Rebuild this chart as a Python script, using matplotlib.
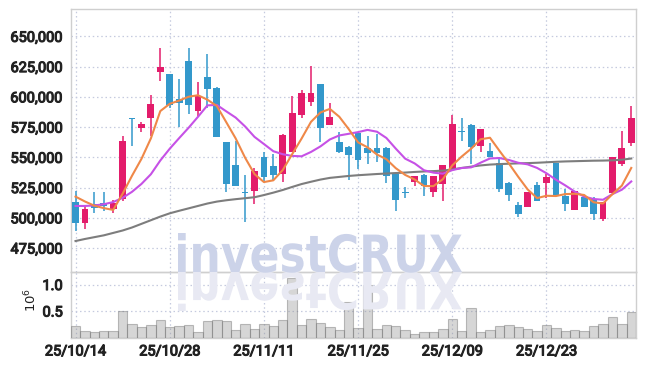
import numpy as np
import matplotlib
matplotlib.use("Agg")
import matplotlib.pyplot as plt
import matplotlib.patheffects as pe
from matplotlib.textpath import TextPath
from matplotlib.patches import PathPatch
from matplotlib.font_manager import FontProperties
from matplotlib.transforms import Affine2D, IdentityTransform

# ==============================
# Data (won / shares)
# ==============================
TICK_POS = [0, 10, 20, 30, 40, 50]
TICK_LABELS = ["25/10/14", "25/10/28", "25/11/11", "25/11/25", "25/12/09", "25/12/23"]

OPEN = [513400, 496000, 511400, 512000, 507300, 515600, 582500, 574500, 582200, 620200,
        618900, 598200, 629900, 588000, 616100, 607600, 562700, 543900, 521300, 522400,
        550000, 542800, 536500, 554700, 585300, 596000, 610600, 577000, 562400, 558500,
        570100, 557700, 557700, 557700, 536200, 520800, 529900, 535400, 521600, 528200,
        540400, 571800, 576700, 559600, 555000, 545300, 528800, 510600, 509200, 527100,
        529100, 545300, 518300, 506700, 516900, 515600, 499000, 520500, 544500, 562100]
HIGH = [522400, 510600, 521100, 521100, 515000, 567600, 582500, 578900, 601500, 640100,
        618900, 614700, 640100, 612000, 635400, 608400, 562700, 563500, 535700, 540900,
        554700, 552500, 569300, 600400, 605600, 625800, 610600, 595200, 571200, 559600,
        570700, 567400, 569600, 558500, 536200, 525200, 534800, 536200, 534300, 543700,
        585000, 582200, 577300, 573400, 561600, 550000, 529300, 512800, 521600, 529900,
        536200, 545300, 523800, 522400, 517500, 516900, 512800, 550000, 572000, 592100]
LOW = [489400, 490800, 504000, 505600, 504000, 513900, 559600, 571200, 567900, 613400,
       591000, 574800, 585800, 583900, 590800, 566500, 521600, 526000, 496300, 511400,
       529300, 531300, 529300, 554100, 582800, 592100, 562900, 577000, 553300, 531500,
       540400, 544200, 545900, 528500, 505600, 516400, 526600, 518300, 516900, 514200,
       539800, 563800, 544500, 554700, 550000, 521600, 514200, 500400, 508700, 514200,
       516100, 517800, 505400, 506700, 509200, 498500, 497600, 520500, 542600, 559100]
CLOSE = [496000, 507300, 507800, 509500, 512000, 563200, 581400, 577500, 594100, 624900,
         593200, 594900, 593200, 600400, 606500, 567100, 528200, 526000, 520800, 538700,
         534000, 535400, 568500, 586400, 603200, 603200, 574000, 583300, 554100, 552200,
         548100, 553600, 553600, 534800, 515000, 520200, 534800, 526600, 534300, 543700,
         577500, 571200, 558800, 573400, 550000, 523800, 518900, 503400, 521100, 514200,
         533500, 517800, 511400, 522400, 509200, 503400, 512800, 550000, 557400, 582500]
VOLUME = [215000, 117000, 98000, 116000, 116000, 494000, 250000, 192000, 232000, 325000,
          192000, 210000, 230000, 98000, 305000, 325000, 305000, 135000, 249000, 154000,
          249000, 210000, 325000, 1125000, 230000, 343000, 268000, 192000, 135000, 664000,
          173000, 990000, 154000, 230000, 211000, 135000, 60000, 98000, 98000, 154000,
          343000, 116000, 550000, 98000, 135000, 211000, 230000, 192000, 154000, 116000,
          230000, 173000, 116000, 135000, 116000, 211000, 255000, 380000, 255000, 475000]

# moving-average lines as drawn on the chart
MA_SHORT = [517500, 513500, 510000, 508000, 506520, 519960, 534780, 548720, 565640, 588220,
            594220, 596920, 600060, 601320, 597640, 592420, 579080, 565640, 549720, 536160,
            529540, 530980, 539480, 552600, 565500, 579340, 587060, 590020, 583560, 573360,
            562340, 558260, 552320, 548460, 541020, 535440, 531680, 526280, 526180, 531920,
            543380, 550660, 557100, 564920, 566180, 555440, 544980, 533900, 523440, 516280,
            518220, 518000, 519600, 519860, 518860, 512840, 511840, 519560, 526560, 541220]
MA_MID = [509800, 509800, 510200, 511200, 513000, 516500, 521500, 528000, 536000, 547370,
          557090, 565850, 574390, 583480, 592930, 593320, 588000, 582850, 575520, 566900,
          560980, 555030, 552560, 551160, 550830, 554440, 559020, 564750, 568080, 569430,
          570840, 572660, 571170, 566010, 557190, 548890, 544970, 539300, 537320, 536470,
          539410, 541170, 541690, 545550, 549050, 549410, 547820, 545500, 544180, 541230,
          536830, 531490, 526750, 521650, 517570, 515530, 514920, 519580, 523210, 530040]
MA_LONG = [480800, 482500, 484000, 485500, 487500, 489500, 492000, 495000, 498000, 501000,
           503700, 505800, 507800, 509800, 511800, 513400, 514500, 515400, 516200, 517000,
           518800, 520800, 523000, 525500, 527900, 529800, 531600, 533000, 533800, 534600,
           535200, 535700, 536200, 536600, 537000, 537400, 537900, 538300, 538600, 539000,
           540000, 541200, 542300, 543300, 544000, 544400, 544700, 545000, 545200, 545500,
           545900, 546300, 546600, 546800, 547000, 547200, 547300, 547500, 548000, 549000]

UP_COLOR = "#e31c6b"
DOWN_COLOR = "#3398cb"
GRID_COLOR = "#c5cadf"
FRAME_COLOR = "#cfcfcf"
TEXT_COLOR = "#222222"
FONT = ["Roboto", "DejaVu Sans"]
HEAVY = [pe.withStroke(linewidth=0.8, foreground=TEXT_COLOR)]

W, H = 645, 366
fig = plt.figure(figsize=(W / 100, H / 100), dpi=100)
left, right = 71 / W, 635.5 / W
ax = fig.add_axes([left, 1 - 272 / H, right - left, 263 / H])
axv = fig.add_axes([left, 1 - 337.5 / H, right - left, 65.5 / H])

x = np.arange(len(CLOSE))
o = np.array(OPEN)
c = np.array(CLOSE)
up = c >= o
cols = np.where(up, UP_COLOR, DOWN_COLOR)

# ---- watermark (and its reflection) in display pixels
fp = FontProperties(family="DejaVu Sans", weight="bold")
tp = TextPath((0, 0), "investCRUX", size=1, prop=fp)
ext = tp.get_extents()
sx = 284 / ext.width
sy = 39 / ext.ymax
x0 = 178 - ext.xmin * sx
base = H - 272
wm = PathPatch(tp, transform=Affine2D().scale(sx, sy).translate(x0, base) + IdentityTransform(),
               facecolor="#ccd3e9", edgecolor="none", zorder=0.5)
wm_r = PathPatch(tp, transform=Affine2D().scale(sx, -sy).translate(x0, base) + IdentityTransform(),
                 facecolor="#e8e9f3", edgecolor="none", zorder=0.5)
fig.add_artist(wm_r)
fig.add_artist(wm)
ax.patch.set_alpha(0)
axv.patch.set_alpha(0)

# ---- candles
ax.vlines(x, LOW, HIGH, colors=cols, linewidth=1.1, zorder=3)
body_h = np.maximum(np.abs(c - o), 900)
ax.bar(x, body_h, bottom=np.minimum(o, c), width=0.72, color=cols, linewidth=0, zorder=4)

# ---- moving averages
ax.plot(x, MA_LONG, color="#7d7d7d", linewidth=1.5, zorder=5)
ax.plot(x, MA_MID, color="#c651e6", linewidth=1.5, zorder=5)
ax.plot(x, MA_SHORT, color="#ef8848", linewidth=1.5, zorder=5)

ax.set_xlim(-0.48, 59.45)
ax.set_ylim(455200, 672600)
ax.set_yticks([475000, 500000, 525000, 550000, 575000, 600000, 625000, 650000])
ax.set_yticklabels([f"{v:,}" for v in ax.get_yticks().astype(int)])
ax.set_xticks(TICK_POS)
ax.set_xticklabels([])
ax.grid(True, color=GRID_COLOR, linestyle=(0, (1.2, 2.2)), linewidth=0.9, zorder=1)
ax.set_axisbelow(True)

# ---- volume
axv.bar(x, VOLUME, width=1.0, facecolor=(0.55, 0.55, 0.55, 0.35),
        edgecolor=(0.45, 0.45, 0.45, 0.45), linewidth=0.8, zorder=3)
axv.set_xlim(-0.48, 59.45)
axv.set_ylim(0, 1.236e6)
axv.set_yticks([0.5e6, 1.0e6])
axv.set_yticklabels(["0.5", "1.0"])
axv.set_xticks(TICK_POS)
axv.set_xticklabels(TICK_LABELS)
axv.grid(True, color=GRID_COLOR, linestyle=(0, (1.2, 2.2)), linewidth=0.9, zorder=1)
axv.set_axisbelow(True)

for a in (ax, axv):
    for s in a.spines.values():
        s.set_color(FRAME_COLOR)
        s.set_linewidth(1.0)
    a.tick_params(length=0, pad=6, labelsize=10.5, labelcolor=TEXT_COLOR)
    for t in a.get_yticklabels() + a.get_xticklabels():
        t.set_family(FONT)
        t.set_path_effects(HEAVY)
axv.tick_params(axis="x", pad=5)

fig.text(31 / W, 1 - 300 / H, r"$10^6$", rotation=90, ha="center", va="center",
         fontsize=9.5, color=TEXT_COLOR)

fig.savefig("out.png", dpi=100)
